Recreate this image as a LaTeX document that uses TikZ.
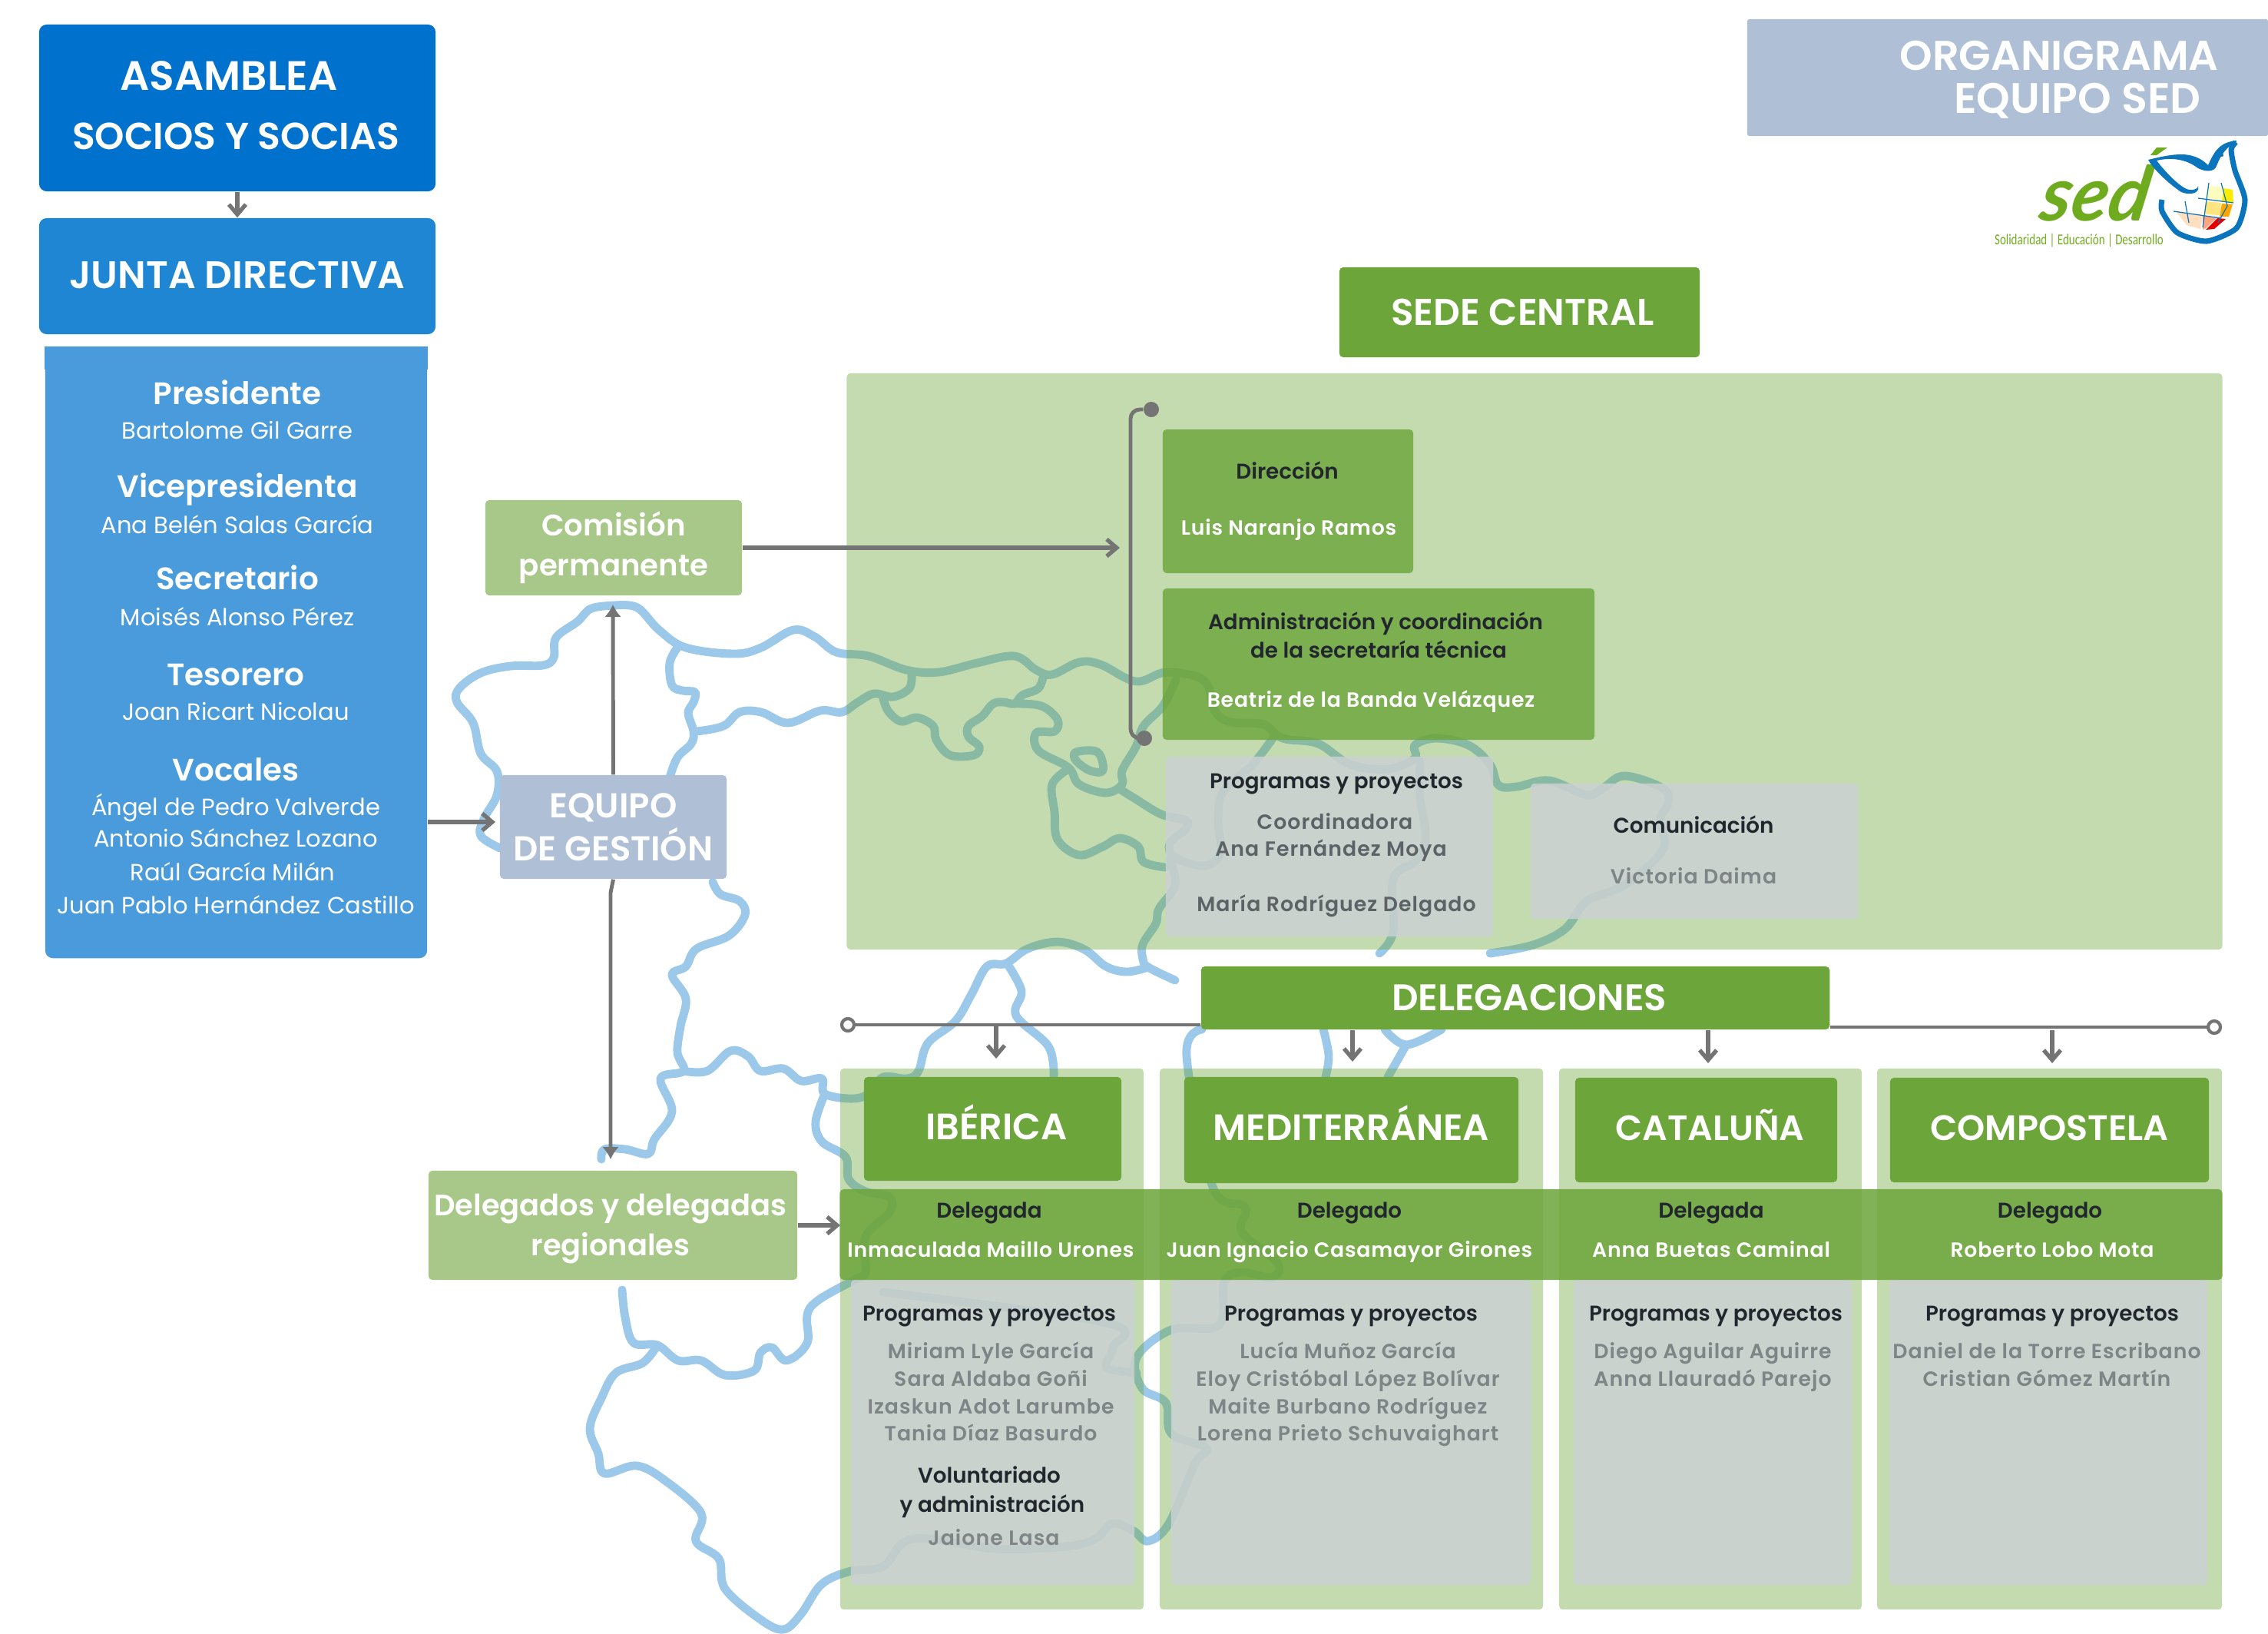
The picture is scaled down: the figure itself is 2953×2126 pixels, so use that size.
\documentclass[tikz,border=0pt]{standalone}
\usepackage{fontspec}
\setmainfont{Poppins}[BoldFont={Poppins SemiBold}]
\newfontfamily\tagfont{Carlito}
\newfontfamily\sedfont{Lato}
\usetikzlibrary{arrows.meta}
\definecolor{azulA}{HTML}{0072CE}
\definecolor{azulB}{HTML}{1F86D3}
\definecolor{azulC}{HTML}{4A9BDB}
\definecolor{mapaazul}{HTML}{9CC9EA}
\definecolor{verde}{HTML}{6CA53A}
\definecolor{verdeclaro}{HTML}{A7C888}
\definecolor{pizarra}{HTML}{AEBFD6}
\definecolor{gris}{HTML}{CCD1D3}
\definecolor{linea}{HTML}{747474}
\definecolor{tinta}{HTML}{22272E}
\definecolor{nombre}{HTML}{7F8587}
\definecolor{nombreB}{HTML}{5C6266}
\definecolor{sedverde}{HTML}{6FAB1E}
\definecolor{sedazul}{HTML}{0A75BC}

\begin{document}
\begin{tikzpicture}[
x=0.01cm,y=-0.01cm,
caja/.style={rectangle,inner sep=0pt,rounded corners=.5mm,text=white,align=center,text opacity=1},
fondo/.style={caja,fill=verde,fill opacity=.4},
velo/.style={caja,fill=gris,fill opacity=.85},
medio/.style={caja,fill=verde,fill opacity=.82},
fuerte/.style={caja,fill=verde},
region/.style={fuerte,text height=.335cm,text depth=.06cm},
cargo/.style={inner sep=0pt,text=white,text height=8pt,text depth=0pt,font=\fontsize{11.5}{12}\selectfont\bfseries},
socio/.style={inner sep=0pt,text=white,text height=6.1pt,text depth=0pt,font=\fontsize{8.7}{10}\selectfont},
rotulo/.style={inner sep=0pt,text=tinta,text height=5.5pt,text depth=0pt,font=\fontsize{7.9}{9}\selectfont\bfseries},
blanco/.style={inner sep=0pt,text=white,text height=5.4pt,text depth=0pt,font=\fontsize{7.6}{9}\selectfont\bfseries\addfontfeature{LetterSpace=3}},
persona/.style={inner sep=0pt,text=nombre,text height=5.4pt,text depth=0pt,font=\fontsize{7.6}{9}\selectfont\bfseries\addfontfeature{LetterSpace=4}},
personab/.style={persona,text=nombreB},
mapa/.style={draw=mapaazul,line width=3.1pt,line cap=round,line join=round},
flecha/.style={draw=linea,line width=1.5pt,-{Straight Barb[length=1.3mm,width=2.2mm]}},
flechallena/.style={draw=linea,line width=1.4pt,-{Latex[length=1.6mm,width=2.2mm]}}
]
    \useasboundingbox (0,0) rectangle (2953,2126);

    \draw[mapa] plot[smooth,tension=.6] coordinates {(802,788) (770,792) (752,809) (724,830) (721,856) (707,866) (665,867) (626,876) (598,896) (595,914) (616,941) (626,981) (647,1004) (647,1035) (630,1066) (626,1088) (651,1104)};
    \draw[mapa] plot[smooth,tension=.6] coordinates {(802,788) (830,791) (858,820) (893,843) (956,851) (991,843) (1033,820) (1061,829) (1089,849) (1131,854) (1180,872) (1222,875) (1272,863) (1321,854) (1349,872) (1370,878) (1405,862) (1433,865) (1479,887) (1519,875) (1568,886) (1582,926) (1603,940) (1645,943) (1670,961) (1716,968) (1758,995) (1807,1001) (1842,987) (1842,970) (1870,961) (1912,970) (1940,995) (1951,1022) (1975,1024) (2017,1016) (2066,1035) (2087,1026) (2115,1010) (2165,1026) (2172,1045) (2161,1068) (2165,1106) (2115,1152) (2066,1173) (2038,1209) (1996,1230) (1940,1241)};
    \draw[mapa] plot[smooth,tension=.6] coordinates {(1531,885) (1514,919) (1489,945) (1479,972) (1461,1003) (1461,1021) (1440,1032) (1405,1021) (1391,999) (1352,977) (1349,954) (1373,952) (1377,937) (1356,919) (1321,916)};
    \draw[mapa] plot[smooth,tension=.6] coordinates {(1359,878) (1352,896) (1331,905) (1321,916) (1307,914) (1293,916) (1279,932) (1261,945) (1261,959) (1275,972) (1268,983) (1237,983) (1219,963) (1215,945) (1194,934) (1173,939) (1156,925) (1149,905)};
    \draw[mapa] plot[smooth,tension=.6] coordinates {(1187,878) (1184,896) (1163,907) (1138,903) (1117,914) (1096,927) (1068,925) (1026,941) (991,927) (963,927) (942,945) (907,952)};
    \draw[mapa] plot[smooth,tension=.6] coordinates {(882,843) (872,863) (875,892) (889,899) (905,901) (903,914) (896,928) (903,952) (900,968) (882,986) (872,1012)};
    \draw[mapa] plot[smooth cycle,tension=.6] coordinates {(1401,979) (1429,979) (1436,1003) (1419,1003) (1401,990)};
    \draw[mapa] plot[smooth,tension=.6] coordinates {(1391,1001) (1370,1021) (1373,1057) (1377,1093) (1405,1113) (1436,1102) (1458,1091) (1482,1102) (1489,1122) (1517,1129)};
    \draw[mapa] plot[smooth,tension=.6] coordinates {(1456,1026) (1477,1039) (1512,1060) (1544,1068) (1544,1079) (1523,1098) (1530,1116) (1568,1127) (1589,1110) (1586,1068) (1593,1030) (1631,995) (1660,957)};
    \draw[mapa] plot[smooth,tension=.6] coordinates {(1523,1118) (1530,1152) (1509,1183) (1505,1202) (1488,1229) (1488,1248) (1495,1259) (1530,1276)};
    \draw[mapa] plot[smooth,tension=.6] coordinates {(1495,1259) (1467,1265) (1440,1258) (1412,1236) (1377,1226) (1338,1235) (1310,1254) (1285,1258) (1265,1294) (1244,1329) (1208,1358) (1196,1394) (1181,1404) (1150,1402) (1135,1421) (1112,1430) (1074,1424) (1070,1404) (1043,1407) (1020,1391) (990,1394) (974,1375) (951,1368) (921,1394) (890,1394)};
    \draw[mapa] plot[smooth,tension=.6] coordinates {(1311,1254) (1330,1290) (1323,1322) (1365,1362) (1372,1401)};
    \draw[mapa] plot[smooth,tension=.6] coordinates {(1849,991) (1849,1037) (1856,1091) (1842,1121) (1814,1144) (1814,1213) (1796,1241)};
    \draw[mapa] plot[smooth,tension=.6] coordinates {(928,1148) (938,1164) (963,1173) (970,1191) (949,1218) (907,1235) (893,1258) (875,1269) (893,1300) (886,1336) (882,1370) (890,1394) (860,1404) (875,1447) (852,1483) (844,1502) (814,1496) (787,1496) (783,1509)};
    \draw[mapa] plot[smooth,tension=.6] coordinates {(1074,1424) (1062,1460) (1070,1486) (1101,1506) (1105,1535) (1127,1551) (1158,1558) (1158,1578) (1127,1610) (1127,1656) (1112,1666) (1055,1702) (1051,1748) (1024,1771) (1005,1754) (990,1761) (982,1784) (944,1790) (913,1771) (883,1771) (856,1751) (825,1748) (814,1715) (810,1679)};
    \draw[mapa] plot[smooth,tension=.6] coordinates {(856,1751) (837,1774) (802,1787) (783,1820) (768,1859) (779,1892) (787,1918) (829,1908) (867,1928) (913,1970) (906,2006) (936,2029) (944,2068) (990,2108) (1020,2121) (1043,2101) (1070,2062) (1108,2045) (1150,2039) (1189,2003) (1296,2016) (1388,2013) (1426,2003) (1449,1983) (1476,1993) (1495,2006) (1522,1983) (1556,1905) (1571,1885) (1525,1866) (1518,1826) (1487,1807) (1480,1767) (1525,1731) (1587,1725) (1594,1669) (1617,1656) (1656,1663) (1663,1643) (1617,1604) (1621,1571) (1579,1545) (1545,1375) (1565,1340)};
    \draw[mapa] plot[smooth,tension=.6] coordinates {(1150,1682) (1441,1722) (1449,1754) (1441,1780) (1480,1787)};
    \draw[mapa] plot[smooth,tension=.6] coordinates {(1723,1340) (1730,1374) (1726,1402)};
    \draw[mapa] plot[smooth,tension=.6] coordinates {(1803,1340) (1831,1360) (1877,1340)};
    \draw[mapa] plot[smooth,tension=.6] coordinates {(1831,1360) (1807,1402)};

    \node[fondo,minimum width=17.90cm,minimum height=7.50cm] (sedefondo) at (1998,861){};
    \node[fondo,minimum width=3.95cm,minimum height=7.04cm] (colA) at (1291.5,1743){};
    \node[fondo,minimum width=4.99cm,minimum height=7.04cm] (colB) at (1759.5,1743){};
    \node[fondo,minimum width=3.94cm,minimum height=7.04cm] (colC) at (2227,1743){};
    \node[fondo,minimum width=4.49cm,minimum height=7.04cm] (colD) at (2668.5,1743){};

    \node[velo,minimum width=3.69cm,minimum height=3.97cm] (grisA) at (1292.5,1864.5){};
    \node[velo,minimum width=4.68cm,minimum height=3.97cm] (grisB) at (1759,1864.5){};
    \node[velo,minimum width=3.62cm,minimum height=3.97cm] (grisC) at (2230,1864.5){};
    \node[velo,minimum width=4.14cm,minimum height=3.97cm] (grisD) at (2667,1864.5){};
    \node[medio,minimum width=17.99cm,minimum height=1.18cm,fill opacity=.85] (fila) at (1993.5,1607){};

    \node[caja,fill=azulA,rounded corners=1mm,minimum width=5.16cm,minimum height=2.17cm] (asamblea) at (309,140.5){};
    \node[text=white,inner sep=0pt,text height=10.6pt,text depth=0pt,font=\fontsize{15.2}{16}\selectfont\bfseries] (asambleaA) at (298,99){ASAMBLEA};
    \node[text=white,inner sep=0pt,text height=10pt,text depth=0pt,font=\fontsize{13.9}{16}\selectfont\bfseries] (asambleaB) at (307,177){SOCIOS Y SOCIAS};
    \node[caja,fill=azulB,rounded corners=1mm,minimum width=5.16cm,minimum height=1.51cm,text height=10pt,text depth=1pt,font=\fontsize{14.2}{16}\selectfont\bfseries] (junta) at (309,359.5){JUNTA DIRECTIVA};
    \node[caja,fill=azulC,rounded corners=1mm,minimum width=4.97cm,minimum height=7.95cm] (panel) at (307.5,849.5){};
    \fill[azulC] (panel.north west) rectangle ([yshift=-0.3cm]panel.north east);

    \node[cargo] (presi) at (309,512){Presidente};
    \node[socio] (presiA) at (309,561){Bartolome Gil Garre};
    \node[cargo] (vice) at (309,633){Vicepresidenta};
    \node[socio] (viceA) at (309,684){Ana Belén Salas García};
    \node[cargo] (secre) at (309,753){Secretario};
    \node[socio] (secreA) at (309,804){Moisés Alonso Pérez};
    \node[cargo] (teso) at (307,878){Tesorero};
    \node[socio] (tesoA) at (307,927){Joan Ricart Nicolau};
    \node[cargo] (voca) at (307,1002){Vocales};
    \node[socio] (vocaA) at (307,1051){Ángel de Pedro Valverde};
    \node[socio] (vocaB) at (307,1092){Antonio Sánchez Lozano};
    \node[socio] (vocaC) at (303,1136){Raúl García Milán};
    \node[socio] (vocaD) at (307,1179){Juan Pablo Hernández Castillo};

    \node[caja,fill=verdeclaro,minimum width=3.34cm,minimum height=1.24cm,font=\fontsize{11}{14.8}\selectfont\bfseries] (comision) at (799,713){Comisión\\permanente};
    \node[caja,fill=pizarra,minimum width=2.95cm,minimum height=1.35cm,font=\fontsize{12.8}{16}\selectfont\bfseries] (equipo) at (798.5,1076.5){EQUIPO\\DE GESTIÓN};
    \node[caja,fill=verdeclaro,minimum width=4.80cm,minimum height=1.42cm] (delegados) at (798,1595){};
    \node[inner sep=0pt,text=white,align=center,font=\fontsize{10.9}{14.8}\selectfont\bfseries] (delegadosT) at (795,1600){Delegados y delegadas\\regionales};

    \node[caja,fill=pizarra,rounded corners=.3mm,minimum width=6.78cm,minimum height=1.52cm] (titulo) at (2614,101){};
    \node[text=white,inner sep=0pt,text height=10.8pt,text depth=0pt,font=\fontsize{15.4}{16}\selectfont\bfseries] (tituloA) at (2681,72){ORGANIGRAMA};
    \node[text=white,inner sep=0pt,text height=10.8pt,text depth=0pt,font=\fontsize{15.8}{16}\selectfont\bfseries] (tituloB) at (2705,128){EQUIPO SED};

    \node[fuerte,minimum width=4.69cm,minimum height=1.17cm,font=\fontsize{13.8}{16}\selectfont\bfseries] (sede) at (1978.5,406.5){\hspace{.08cm}SEDE CENTRAL};
    \node[medio,minimum width=3.26cm,minimum height=1.87cm] (direccion) at (1677,652.5){};
    \node[rotulo] (direccionA) at (1676,614){Dirección};
    \node[blanco] (direccionB) at (1678,687){Luis Naranjo Ramos};
    \node[medio,minimum width=5.62cm,minimum height=1.97cm] (admin) at (1795,864.5){};
    \node[rotulo] (adminA) at (1791,810){Administración y coordinación};
    \node[rotulo] (adminB) at (1795,847){de la secretaría técnica};
    \node[blanco] (adminC) at (1785,911){Beatriz de la Banda Velázquez};
    \node[velo,minimum width=4.26cm,minimum height=2.34cm] (programas) at (1731,1102){};
    \node[rotulo] (programasA) at (1740,1017){Programas y proyectos};
    \node[personab] (programasB) at (1738,1070){Coordinadora};
    \node[personab] (programasC) at (1733,1105){Ana Fernández Moya};
    \node[personab] (programasD) at (1740,1177){María Rodríguez Delgado};
    \node[velo,minimum width=4.26cm,minimum height=1.76cm] (comunica) at (2206,1108){};
    \node[rotulo] (comunicaA) at (2205,1075){Comunicación};
    \node[persona] (comunicaB) at (2205,1141){Victoria Daima};

    \node[fuerte,font=\fontsize{13.7}{14}\selectfont\bfseries,minimum width=8.18cm,minimum height=.82cm] (delegaciones) at (1973,1299){\hspace{.36cm}DELEGACIONES};
    \node[region,font=\fontsize{13.6}{16}\selectfont\bfseries,minimum width=3.35cm,minimum height=1.35cm] (iberica) at (1292.5,1469.5){\hspace{.1cm}IBÉRICA};
    \node[region,font=\fontsize{13.6}{16}\selectfont\bfseries,minimum width=4.35cm,minimum height=1.38cm] (medit) at (1759.5,1471){MEDITERRÁNEA};
    \node[region,font=\fontsize{13}{16}\selectfont\bfseries,minimum width=3.41cm,minimum height=1.36cm] (catalu) at (2221.5,1471){\hspace{.1cm}CATALUÑA};
    \node[region,font=\fontsize{13.1}{16}\selectfont\bfseries,minimum width=4.15cm,minimum height=1.36cm] (compos) at (2668.5,1471){COMPOSTELA};

    \node[rotulo] (filaA) at (1288,1576){Delegada};
    \node[blanco] (filaB) at (1290,1627){Inmaculada Maillo Urones};
    \node[rotulo] (filaC) at (1757,1576){Delegado};
    \node[blanco] (filaD) at (1757,1627){Juan Ignacio Casamayor Girones};
    \node[rotulo] (filaE) at (2228,1576){Delegada};
    \node[blanco] (filaF) at (2228,1627){Anna Buetas Caminal};
    \node[rotulo] (filaG) at (2669,1576){Delegado};
    \node[blanco] (filaH) at (2672,1627){Roberto Lobo Mota};

    \node[rotulo] (ibA) at (1288,1710){Programas y proyectos};
    \node[persona] (ibB) at (1290,1759){Miriam Lyle García};
    \node[persona] (ibC) at (1290,1795){Sara Aldaba Goñi};
    \node[persona] (ibD) at (1290,1831){Izaskun Adot Larumbe};
    \node[persona] (ibE) at (1290,1866){Tania Díaz Basurdo};
    \node[rotulo] (ibF) at (1288,1921){Voluntariado};
    \node[rotulo] (ibG) at (1292,1959){y administración};
    \node[persona] (ibH) at (1294,2002){Jaione Lasa};

    \node[rotulo] (meA) at (1759,1710){Programas y proyectos};
    \node[persona] (meB) at (1755,1759){Lucía Muñoz García};
    \node[persona] (meC) at (1755,1795){Eloy Cristóbal López Bolívar};
    \node[persona] (meD) at (1755,1831){Maite Burbano Rodríguez};
    \node[persona] (meE) at (1755,1866){Lorena Prieto Schuvaighart};

    \node[rotulo] (caA) at (2234,1710){Programas y proyectos};
    \node[persona] (caB) at (2230,1759){Diego Aguilar Aguirre};
    \node[persona] (caC) at (2230,1795){Anna Llauradó Parejo};

    \node[rotulo] (coA) at (2672,1710){Programas y proyectos};
    \node[persona] (coB) at (2665,1759){Daniel de la Torre Escribano};
    \node[persona] (coC) at (2665,1795){Cristian Gómez Martín};

    \coordinate (enPanel) at (645,1070);
    \coordinate (enComision) at (798,787);
    \coordinate (enDelegados) at (795,1509);
    \coordinate (pliegue) at (795,1162);
    \coordinate (enCorchete) at (1458,713);
    \coordinate (esquinaA) at (1472,533);
    \coordinate (esquinaB) at (1472,961);
    \coordinate (enFila) at (1094,1595);
    \coordinate (bajaA) at (1297,1378);
    \coordinate (bajaB) at (1761,1382);
    \coordinate (bajaC) at (2224,1384);
    \coordinate (bajaD) at (2672,1384);
    \coordinate (salidaA) at (1297,1334);
    \node[circle,fill=linea,inner sep=0pt,minimum size=.2cm] (puntoA) at (1499,533){};
    \node[circle,fill=linea,inner sep=0pt,minimum size=.2cm] (puntoB) at (1490,961){};
    \node[circle,draw=linea,fill=white,line width=1.2pt,inner sep=0pt,minimum size=.16cm] (aroA) at (1104,1334){};
    \node[circle,draw=linea,fill=white,line width=1.2pt,inner sep=0pt,minimum size=.16cm] (aroB) at (2883,1337){};

    \draw[flecha] (asamblea.south) -- (junta.north);
    \draw[flecha] (panel.east |- enPanel) -- (enPanel);
    \draw[flechallena] (equipo.north) -- (enComision);
    \draw[flechallena] (equipo.south) -- (pliegue) -- (enDelegados);
    \draw[flecha] (comision.east) -- (enCorchete);
    \draw[draw=linea,line width=1.4pt,rounded corners=1.2mm] (puntoA) -- (esquinaA) -- (esquinaB) -- (puntoB);
    \draw[flecha] (delegados.east) -- (enFila);
    \draw[draw=linea,line width=1.4pt] (aroA) -- (delegaciones.west |- aroA);
    \draw[draw=linea,line width=1.4pt] (delegaciones.east |- aroB) -- (aroB);
    \draw[flecha] (salidaA) -- (bajaA);
    \draw[flecha] (delegaciones.south -| bajaB) -- (bajaB);
    \draw[flecha] (delegaciones.south -| bajaC) -- (bajaC);
    \draw[flecha] (delegaciones.south -| bajaD) -- (bajaD);

    \node[inner sep=0pt,text=sedverde,xslant=.18,transform shape,text height=18pt,text depth=0pt,font=\fontsize{28}{29}\sedfont\bfseries\itshape] (sedlogo) at (2730,256){sed};
    \fill[sedverde] (2808,192) -- (2822,192) -- (2808,202) -- (2800,202) -- cycle;
    \node[inner sep=0pt,text=sedverde,text height=4pt,text depth=0pt,font=\fontsize{5.6}{7}\tagfont] (lema) at (2707,311){\scalebox{.76}[1]{Solidaridad | Educación | Desarrollo}};
    \fill[yellow!25!white] (2875,242) -- (2893,243) -- (2893,262) -- (2873,258) -- cycle;
    \fill[yellow!95!orange] (2895,245) -- (2907,247) -- (2908,264) -- (2893,262) -- cycle;
    \fill[orange!40!yellow!50!white] (2872,262) -- (2892,264) -- (2890,280) -- (2870,279) -- cycle;
    \fill[orange!70!yellow] (2893,265) -- (2907,266) -- (2902,282) -- (2890,282) -- cycle;
    \fill[orange!25!white] (2833,275) -- (2868,280) -- (2865,298) -- (2847,293) -- cycle;
    \fill[orange!60!red!50!white] (2868,281) -- (2887,283) -- (2872,297) -- (2868,299) -- cycle;
    \fill[red!90!black] (2887,284) -- (2898,285) -- (2883,298) -- (2872,299) -- cycle;
    \draw[sedazul,line width=.35pt] (2876,238) -- (2868,296);
    \draw[sedazul,line width=.35pt] (2892,238) -- (2900,268) -- (2888,290);
    \draw[sedazul,line width=.35pt] (2862,258) -- (2908,264);
    \draw[sedazul,line width=.35pt] (2830,275) -- (2892,284);
    \draw[sedazul,line width=.35pt] (2845,262) -- (2850,290);
    \draw[sedazul,line width=2pt,line join=round] plot[smooth,tension=.4] coordinates {(2815,260) (2815,275) (2835,303) (2873,314) (2912,297) (2923,260) (2910,222) (2905,195) (2911,185)};
    \fill[sedazul] (2797,208) .. controls (2830,200) and (2855,195) .. (2875,215) .. controls (2882,200) and (2888,185) .. (2912,183) -- (2911,187) .. controls (2902,188) and (2892,200) .. (2886,216) .. controls (2883,224) and (2872,224) .. (2862,219) .. controls (2845,206) and (2825,205) .. (2808,209) .. controls (2820,225) and (2840,245) .. (2850,247) .. controls (2858,248) and (2862,245) .. (2862,242) -- (2862,247) .. controls (2860,252) and (2850,254) .. (2840,250) .. controls (2825,240) and (2805,222) .. (2797,208) -- cycle;
    \fill[sedazul] (2893,202) circle (2);
\end{tikzpicture}
\end{document}
